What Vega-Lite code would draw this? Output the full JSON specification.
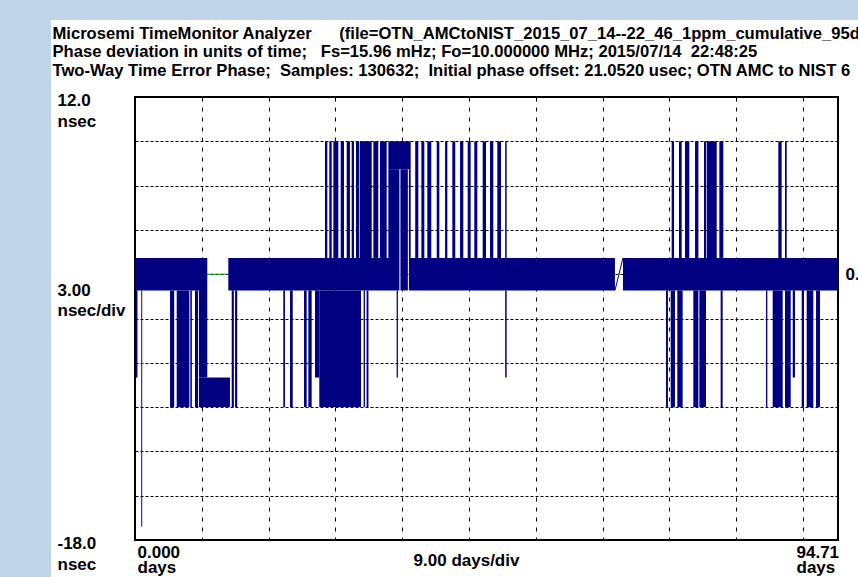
{
  "$schema": "https://vega.github.io/schema/vega-lite/v6.json",
  "width": 703,
  "height": 443,
  "autosize": {"type": "none"},
  "padding": {"left": 135, "top": 97, "right": 20, "bottom": 37},
  "datasets": {
    "blocks": [
      {"start": 0, "end": 9.2, "low": -1.1, "high": 1.1},
      {"start": 12.57, "end": 35.62, "low": -1.1, "high": 1.1},
      {"start": 35.76, "end": 36.76, "low": -1.1, "high": 1.1},
      {"start": 36.9, "end": 64.66, "low": -1.1, "high": 1.1},
      {"start": 65.74, "end": 94.71, "low": -1.1, "high": 1.1},
      {"start": 8.62, "end": 9.74, "low": -7.0, "high": 1.1},
      {"start": 8.62, "end": 12.8, "low": -9.0, "high": -7.0},
      {"start": 0.13, "end": 0.33, "low": -7.0, "high": -1.1},
      {"start": 0.84, "end": 0.97, "low": -17.1, "high": -1.1},
      {"start": 4.72, "end": 5.28, "low": -9.0, "high": -1.1},
      {"start": 5.62, "end": 7.32, "low": -9.0, "high": -1.1},
      {"start": 7.45, "end": 7.66, "low": -9.0, "high": -1.1},
      {"start": 8.08, "end": 8.5, "low": -9.0, "high": -1.1},
      {"start": 13.03, "end": 13.32, "low": -9.0, "high": -1.1},
      {"start": 13.48, "end": 13.77, "low": -9.0, "high": -1.1},
      {"start": 19.98, "end": 20.21, "low": -9.0, "high": -1.1},
      {"start": 20.88, "end": 21.25, "low": -9.0, "high": -1.1},
      {"start": 22.77, "end": 23.13, "low": -9.0, "high": -1.1},
      {"start": 23.35, "end": 23.8, "low": -9.0, "high": -1.1},
      {"start": 24.25, "end": 24.83, "low": -7.0, "high": -1.1},
      {"start": 24.83, "end": 30.45, "low": -9.0, "high": -1.1},
      {"start": 30.8, "end": 30.98, "low": -9.0, "high": -1.1},
      {"start": 31.2, "end": 31.45, "low": -9.0, "high": -1.1},
      {"start": 35.25, "end": 35.42, "low": -7.0, "high": -1.1},
      {"start": 49.87, "end": 50.07, "low": -7.0, "high": -1.1},
      {"start": 71.54, "end": 71.8, "low": -9.0, "high": -1.1},
      {"start": 72.17, "end": 72.75, "low": -9.0, "high": -1.1},
      {"start": 73.06, "end": 73.78, "low": -9.0, "high": -1.1},
      {"start": 75.22, "end": 75.9, "low": -9.0, "high": -1.1},
      {"start": 76.03, "end": 76.93, "low": -9.0, "high": -1.1},
      {"start": 78.9, "end": 79.17, "low": -9.0, "high": -1.1},
      {"start": 85.01, "end": 85.19, "low": -9.0, "high": -1.1},
      {"start": 85.91, "end": 87.26, "low": -9.0, "high": -1.1},
      {"start": 87.57, "end": 88.34, "low": -9.0, "high": -1.1},
      {"start": 88.61, "end": 88.92, "low": -7.0, "high": -1.1},
      {"start": 89.82, "end": 90.13, "low": -9.0, "high": -1.1},
      {"start": 90.49, "end": 91.39, "low": -9.0, "high": -1.1},
      {"start": 91.75, "end": 92.29, "low": -9.0, "high": -1.1},
      {"start": 25.6, "end": 25.91, "low": 1.1, "high": 9.0},
      {"start": 26.18, "end": 26.5, "low": 1.1, "high": 9.0},
      {"start": 26.72, "end": 27.39, "low": 1.1, "high": 9.0},
      {"start": 27.71, "end": 28.16, "low": 1.1, "high": 9.0},
      {"start": 28.52, "end": 28.96, "low": 1.1, "high": 9.0},
      {"start": 29.19, "end": 29.5, "low": 1.1, "high": 9.0},
      {"start": 29.77, "end": 30.22, "low": 1.1, "high": 9.0},
      {"start": 30.31, "end": 31.89, "low": 1.1, "high": 9.0},
      {"start": 32.11, "end": 32.78, "low": 1.1, "high": 9.0},
      {"start": 33.01, "end": 33.91, "low": 1.1, "high": 9.0},
      {"start": 34.13, "end": 37.14, "low": 7.1, "high": 9.0},
      {"start": 34.13, "end": 35.62, "low": 1.1, "high": 7.1},
      {"start": 35.76, "end": 36.76, "low": 1.1, "high": 7.1},
      {"start": 36.9, "end": 37.14, "low": 1.1, "high": 7.1},
      {"start": 37.75, "end": 38.17, "low": 1.1, "high": 9.0},
      {"start": 38.58, "end": 38.98, "low": 1.1, "high": 9.0},
      {"start": 39.38, "end": 39.92, "low": 1.1, "high": 9.0},
      {"start": 40.65, "end": 41.0, "low": 1.1, "high": 9.0},
      {"start": 41.77, "end": 42.08, "low": 1.1, "high": 9.0},
      {"start": 42.75, "end": 43.15, "low": 1.1, "high": 9.0},
      {"start": 43.79, "end": 44.23, "low": 1.1, "high": 9.0},
      {"start": 44.82, "end": 45.22, "low": 1.1, "high": 9.0},
      {"start": 45.71, "end": 46.12, "low": 1.1, "high": 9.0},
      {"start": 46.84, "end": 47.29, "low": 1.1, "high": 9.0},
      {"start": 47.83, "end": 48.27, "low": 1.1, "high": 9.0},
      {"start": 48.81, "end": 49.31, "low": 1.1, "high": 9.0},
      {"start": 49.87, "end": 50.07, "low": 1.1, "high": 9.0},
      {"start": 72.3, "end": 72.62, "low": 1.1, "high": 9.0},
      {"start": 73.29, "end": 73.65, "low": 1.1, "high": 9.0},
      {"start": 74.1, "end": 74.68, "low": 1.1, "high": 9.0},
      {"start": 75.45, "end": 75.9, "low": 1.1, "high": 9.0},
      {"start": 76.66, "end": 76.93, "low": 1.1, "high": 9.0},
      {"start": 77.02, "end": 78.37, "low": 1.1, "high": 9.0},
      {"start": 78.72, "end": 79.26, "low": 1.1, "high": 9.0},
      {"start": 86.67, "end": 87.12, "low": 1.1, "high": 9.0},
      {"start": 87.57, "end": 87.8, "low": 1.1, "high": 9.0}
    ],
    "lines": [
      {"x0": 64.66, "y0": -1.1, "x1": 65.74, "y1": 1.1, "kind": "trace"},
      {"x0": 9.74, "y0": 0, "x1": 12.57, "y1": 0, "kind": "gap"},
      {"x0": 64.95, "y0": 0, "x1": 65.4, "y1": 0, "kind": "gap"}
    ]
  },
  "layer": [
    {
      "data": {"values": [{}]},
      "mark": {"type": "rect", "color": "#c1d5ea"},
      "encoding": {
        "x": {"datum": -40, "type": "quantitative", "scale": {"domain": [0, 94.71], "nice": false, "zero": false}, "axis": null},
        "x2": {"datum": -11.32},
        "y": {"datum": 40, "type": "quantitative", "scale": {"domain": [-18, 12], "nice": false, "zero": false}, "axis": null},
        "y2": {"datum": -40}
      }
    },
    {
      "data": {"values": [{}]},
      "mark": {"type": "rect", "color": "#c1d5ea"},
      "encoding": {
        "x": {"datum": -40, "type": "quantitative", "scale": {"domain": [0, 94.71], "nice": false, "zero": false}, "axis": null},
        "x2": {"datum": 130},
        "y": {"datum": 40, "type": "quantitative", "scale": {"domain": [-18, 12], "nice": false, "zero": false}, "axis": null},
        "y2": {"datum": 17.21}
      }
    },
    {
      "data": {"name": "blocks"},
      "mark": {"type": "rect", "color": "#000080"},
      "encoding": {
        "x": {
          "field": "start", "type": "quantitative",
          "scale": {"domain": [0, 94.71], "nice": false, "zero": false},
          "axis": {
            "orient": "bottom",
            "values": [0, 9, 18, 27, 36, 45, 54, 63, 72, 81, 90, 94.71],
            "labelExpr": "datum.value == 0 ? ['0.000', 'days'] : datum.value > 94 ? ['94.71', 'days'] : ''",
            "grid": true,
            "gridDash": [4, 6],
            "labelFlush": false,
            "labelAlign": "left",
            "labelBaseline": "top",
            "labelPadding": 4,
            "labelOffset": {"condition": {"test": "datum.value > 94", "value": -42}, "value": 2},
            "labelLineHeight": 15,
            "title": "9.00 days/div",
            "titleX": 331,
            "titleY": 12,
            "titleAlign": "center",
            "titleBaseline": "top"
          }
        },
        "x2": {"field": "end"},
        "y": {
          "field": "low", "type": "quantitative",
          "scale": {"domain": [-18, 12], "nice": false, "zero": false},
          "axis": {
            "values": [12, 9, 6, 3, 0, -3, -6, -9, -12, -15, -18],
            "labelExpr": "datum.value == 12 ? ['12.0', 'nsec'] : datum.value == -18 ? ['-18.0', 'nsec'] : ''",
            "grid": true,
            "gridDash": [3, 2],
            "labelFlush": false,
            "labelAlign": "left",
            "labelBaseline": "top",
            "labelPadding": 78,
            "labelOffset": -5,
            "labelLineHeight": 21,
            "title": ["3.00", "nsec/div"],
            "titleAngle": 0,
            "titleAlign": "left",
            "titleBaseline": "top",
            "titleX": -78,
            "titleY": 185,
            "titleLineHeight": 20
          }
        },
        "y2": {"field": "high"}
      }
    },
    {
      "data": {"name": "lines"},
      "mark": {"type": "rule", "strokeWidth": 1},
      "encoding": {
        "x": {
          "field": "x0", "type": "quantitative",
          "scale": {"domain": [0, 94.71], "nice": false, "zero": false},
          "axis": {
            "orient": "top",
            "values": [],
            "labels": false,
            "grid": false,
            "title": [
              "Microsemi TimeMonitor Analyzer\u00a0\u00a0\u00a0\u00a0\u00a0\u00a0(file=OTN_AMCtoNIST_2015_07_14--22_46_1ppm_cumulative_95d.txt)",
              "Phase deviation in units of time;\u00a0\u00a0\u00a0Fs=15.96 mHz; Fo=10.000000 MHz; 2015/07/14\u00a0\u00a022:48:25",
              "Two-Way Time Error Phase;\u00a0\u00a0Samples: 130632;\u00a0\u00a0Initial phase offset: 21.0520 usec; OTN AMC to NIST 6"
            ],
            "titleX": -83,
            "titleY": -59,
            "titleAlign": "left",
            "titleAnchor": "start",
            "titleBaseline": "alphabetic",
            "titleAngle": 0,
            "titleFontSize": 16.6,
            "titleLineHeight": 18.5,
            "titleLimit": 3000
          }
        },
        "x2": {"field": "x1"},
        "y": {
          "field": "y0", "type": "quantitative",
          "scale": {"domain": [-18, 12], "nice": false, "zero": false},
          "axis": {
            "orient": "right",
            "values": [0],
            "labelExpr": "'0.000'",
            "grid": false,
            "labelAlign": "left",
            "labelBaseline": "middle",
            "labelPadding": 7,
            "title": null
          }
        },
        "y2": {"field": "y1"},
        "color": {"field": "kind", "type": "nominal", "scale": {"domain": ["trace", "gap"], "range": ["#000080", "#00a000"]}, "legend": null}
      }
    }
  ],
  "resolve": {"axis": {"x": "independent", "y": "independent"}},
  "config": {
    "background": "white",
    "view": {"stroke": "black", "strokeWidth": 2},
    "axis": {
      "labelFont": "Liberation Sans",
      "labelFontSize": 17,
      "labelFontWeight": "bold",
      "labelColor": "black",
      "titleFont": "Liberation Sans",
      "titleFontSize": 17,
      "titleFontWeight": "bold",
      "titleColor": "black",
      "ticks": false,
      "tickSize": 0,
      "domain": false,
      "labelFlush": false,
      "labelOverlap": false,
      "labelBound": false,
      "gridColor": "black",
      "gridOpacity": 1,
      "gridWidth": 1,
      "zindex": 1
    }
  }
}
